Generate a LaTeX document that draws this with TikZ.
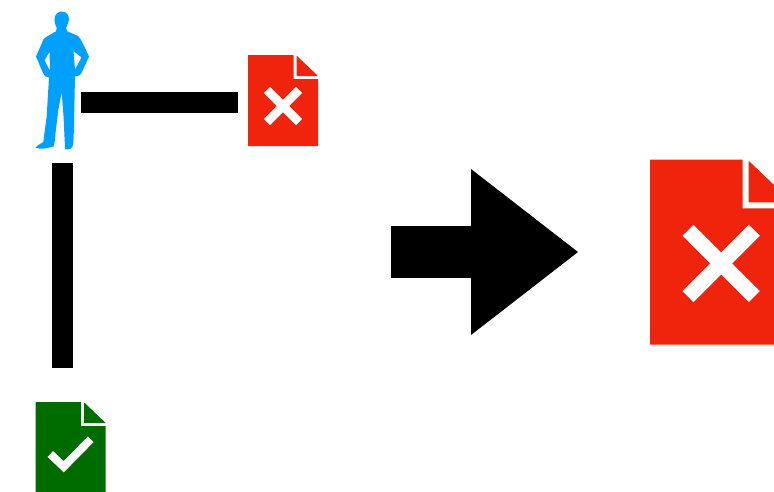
\documentclass[tikz,border=0pt]{standalone}
\usetikzlibrary{arrows.meta}
\definecolor{userblue}{RGB}{0,160,255}
\definecolor{docred}{RGB}{240,36,12}
\definecolor{docgreen}{RGB}{0,108,0}
\tikzset{
  iconbox/.style={inner sep=0pt,outer sep=0pt,minimum width=#1},
  bar/.style={line width=21.5pt},
  bigarrow/.style={line width=52pt,-{Triangle[length=107pt,width=166pt,line width=0pt]}},
}
% sheet of paper with a folded corner, origin at its top left
\newcommand{\sheet}[1]{
  \fill[#1] (0,0) -- (45.5,0) -- (45.5,24) -- (70,24) -- (70,91) -- (0,91) -- cycle;
  \fill[#1] (48.5,0.5) -- (70,21) -- (48.5,21) -- cycle;
}
\begin{document}
\begin{tikzpicture}[x=1pt,y=-1pt]
\useasboundingbox (0,0) rectangle (774,491);

\node[iconbox=53pt,minimum height=138pt] (user) at (62.5,81) {};
\node[iconbox=70pt,minimum height=91pt] (docbad) at (283,100.5) {};
\node[iconbox=70pt,minimum height=91pt] (docgood) at (70.7,447.5) {};
\node[iconbox=142pt,minimum height=185pt] (docresult) at (721,252.2) {};

% person
\fill[userblue,even odd rule] (62,11.5) .. controls (66.5,11.5) and (69,15) .. (69,19.7)
  .. controls (69,23) and (66.5,25.5) .. (66,28) -- (67.3,31.3) -- (78,36)
  .. controls (81,39) and (83,44) .. (85,48) -- (89,56.5) -- (82,72)
  .. controls (80,76) and (77,77) .. (75,76.5) -- (74.5,100) -- (73.8,133) -- (73.3,143)
  .. controls (73,149) and (69,150) .. (65,149.3) -- (64.8,143) -- (63.5,116) -- (61.7,92)
  -- (58.3,110) -- (55.5,133) -- (55,140) -- (53.5,146.5)
  .. controls (47,148.5) and (40,149.5) .. (35.7,147.7)
  .. controls (37,145) and (41,144) .. (43.3,142) -- (46.7,116) -- (49,77.5)
  .. controls (46,77) and (44,76) .. (43,73)
  -- (36,56.5) -- (42,43) .. controls (43,39) and (45,37) .. (47,36.5)
  -- (56,31.3) -- (56.8,28) .. controls (55,24) and (54.3,22) .. (54.5,18)
  .. controls (55.5,14) and (58,11.5) .. (62,11.5) -- cycle
  (44.5,60) -- (49.5,52) -- (50,71) -- cycle
  (73.5,51) -- (81.5,57.5) -- (75,69.5) -- cycle;

% sheets
\begin{scope}[shift={(248,55)}]
\sheet{docred}
\draw[white,line width=8.5pt] (18.9,34.9) -- (51.1,67.1) (18.9,67.1) -- (51.1,34.9);
\end{scope}
\begin{scope}[shift={(35.7,402)}]
\sheet{docgreen}
\draw[white,line width=8pt] (14.6,52) -- (28,64.7) -- (55,37.3);
\end{scope}
\begin{scope}[shift={(650,159.7)},scale=2.033]
\sheet{docred}
\draw[white,line width=15.5pt] (18.7,34.7) -- (51.3,67.3) (18.7,67.3) -- (51.3,34.7);
\end{scope}

\coordinate (arrowstart) at (391,252);
\coordinate (arrowend) at (578,252);

\draw[bar] ([shift={(-8,21.3)}]user.east) -- ([shift={(-10,1.8)}]docbad.west);
\draw[bar] ([shift={(0,13)}]user.south) -- ([shift={(-8.2,-34)}]docgood.north);
\draw[bigarrow] (arrowstart) -- (arrowend);
\end{tikzpicture}
\end{document}
